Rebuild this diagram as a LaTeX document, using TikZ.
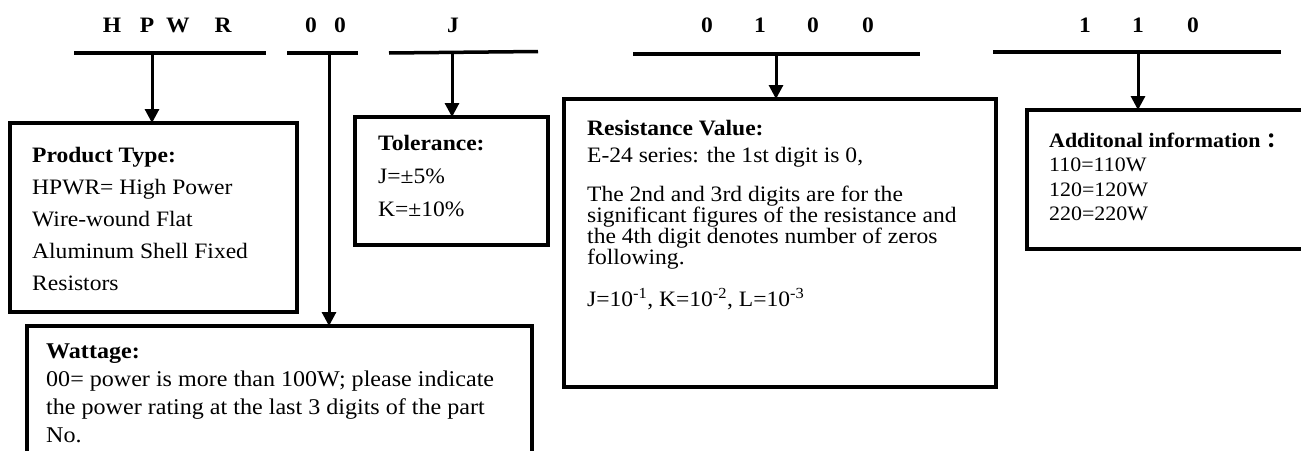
\documentclass[tikz,border=0pt]{standalone}
\usepackage{fontspec}
\setmainfont{Liberation Serif}[FakeStretch=1.07]
\newfontfamily\cjk{Noto Sans CJK SC}
\usetikzlibrary{arrows.meta}
\newcommand\myresfont{\fontsize{22}{20}\selectfont\lineskiplimit-50pt\relax}
\newcommand\mylines[1]{\parbox[t]{600pt}{\raggedright #1}}
\begin{document}
\begin{tikzpicture}[x=1pt,y=-1pt,
  bx/.style={draw, line width=3.5pt, inner sep=0pt, outer sep=0pt, anchor=north west},
  ul/.style={line width=3.5pt},
  arr/.style={line width=3pt, -{Triangle[width=14pt,length=14pt]}},
  dig/.style={font=\fontsize{22}{26}\selectfont\bfseries, anchor=base, inner sep=0pt},
  txt/.style={anchor=base west, inner sep=0pt}
]
\useasboundingbox (0,0) rectangle (1301,450);
\clip (0,0) rectangle (1301,450);

% code letters
\node[dig] (d1) at (112,32) {H};
\node[dig] (d2) at (147,32) {P};
\node[dig] (d3) at (178,32) {W};
\node[dig] (d4) at (223,32) {R};
\node[dig] (d5) at (311,32) {0};
\node[dig] (d6) at (340,32) {0};
\node[dig] (d7) at (453,32) {J};
\node[dig] (d8) at (707,32) {0};
\node[dig] (d9) at (760,32) {1};
\node[dig] (d10) at (813,32) {0};
\node[dig] (d11) at (868,32) {0};
\node[dig] (d12) at (1085,32) {1};
\node[dig] (d13) at (1138,32) {1};
\node[dig] (d14) at (1193,32) {0};

% boxes
\node[bx, minimum width=287pt, minimum height=189pt] (prod) at (10,123) {};
\node[bx, minimum width=193pt, minimum height=128pt] (tol) at (355,117) {};
\node[bx, minimum width=505pt, minimum height=160pt] (watt) at (27,326) {};
\node[bx, minimum width=432pt, minimum height=288pt] (res) at (564,99) {};
\node[bx, minimum width=285pt, minimum height=139pt] (add) at (1027,110) {};

% underlines
\coordinate (u1a) at (74,53);  \coordinate (u1b) at (266,53);
\coordinate (u2a) at (287,53); \coordinate (u2b) at (358,53);
\coordinate (u3a) at (389,53); \coordinate (u3b) at (538,51.5);
\coordinate (u4a) at (633,54); \coordinate (u4b) at (920,54);
\coordinate (u5a) at (993,52); \coordinate (u5b) at (1281,52);
\draw[ul] (u1a) -- (u1b);
\draw[ul] (u2a) -- (u2b);
\draw[ul] (u3a) -- (u3b);
\draw[ul] (u4a) -- (u4b);
\draw[ul] (u5a) -- (u5b);

% arrows
\coordinate (s1) at (152,55);
\coordinate (s2) at (329,53);
\coordinate (s3) at (452,53);
\coordinate (s4) at (776,56);
\coordinate (s5) at (1138,52);
\draw[arr] (s1) -- (s1 |- prod.north);
\draw[arr] (s2) -- (s2 |- watt.north);
\draw[arr] (s3) -- (s3 |- tol.north);
\draw[arr] (s4) -- (s4 |- res.north);
\draw[arr] (s5) -- (s5 |- add.north);

% texts
\node[txt, font=\fontsize{22}{32}\selectfont] (prodt) at (32,162)
  {\mylines{\textbf{Product Type:}\\HPWR= High Power\\Wire-wound Flat\\Aluminum Shell Fixed\\Resistors}};
\node[txt, font=\fontsize{22}{33}\selectfont] (tolt) at (378,150)
  {\mylines{\textbf{Tolerance:}\\J=±5\%\\K=±10\%}};
\node[txt, font=\fontsize{22.5}{28}\selectfont] (wattt) at (46,358)
  {\mylines{\textbf{Wattage:}\\00= power is more than 100W; please indicate\\the power rating at the last 3 digits of the part\\No.}};
\node[txt, font=\myresfont] (rest) at (587,135)
  {\mylines{\textbf{Resistance Value:}\\[7pt]E-24 series: the 1st digit is 0,\\[18pt]The 2nd and 3rd digits are for the\\significant figures of the resistance and\\the 4th digit denotes number of zeros\\following.\\[18pt]J=10\textsuperscript{-1}, K=10\textsuperscript{-2}, L=10\textsuperscript{-3}}};
\node[txt, font=\fontsize{20.5}{24.5}\selectfont] (addt) at (1049,147)
  {\mylines{\textbf{Additonal information {\cjk ：}}\\110=110W\\120=120W\\220=220W}};
\end{tikzpicture}
\end{document}
